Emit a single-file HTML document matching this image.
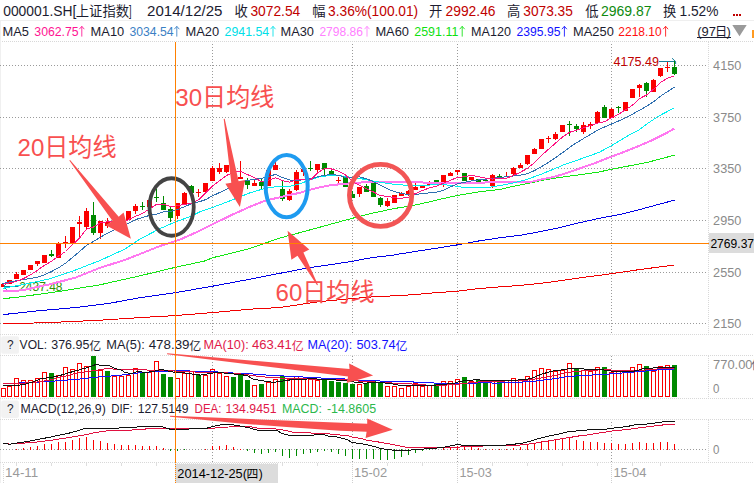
<!DOCTYPE html>
<html><head><meta charset="utf-8"><title>chart</title>
<style>html,body{margin:0;padding:0;background:#fff;overflow:hidden}body{width:754px;height:483px;position:relative;font-family:"Liberation Sans",sans-serif}</style></head>
<body>
<svg width="754" height="483" viewBox="0 0 754 483" style="position:absolute;left:0;top:0;font-family:'Liberation Sans','Noto Sans CJK SC',sans-serif">
<rect width="754" height="483" fill="#fff"/>
<rect x="0" y="20" width="754" height="1" fill="#efefef" />
<path d="M0 41.5H754" stroke="#d8d8d8" stroke-width="1" stroke-dasharray="1 1" fill="none" shape-rendering="crispEdges"/>
<rect x="0" y="21" width="1" height="462" fill="#f0f0f0" />
<path d="M708.5 42V334" stroke="#d8d8d8" stroke-width="1" stroke-dasharray="1 1" fill="none" shape-rendering="crispEdges"/>
<path d="M708.5 356V398" stroke="#d8d8d8" stroke-width="1" stroke-dasharray="1 1" fill="none" shape-rendering="crispEdges"/>
<path d="M708.5 420V462" stroke="#d8d8d8" stroke-width="1" stroke-dasharray="1 1" fill="none" shape-rendering="crispEdges"/>
<path d="M0 65.5H708" stroke="#9a9a9a" stroke-width="1" stroke-dasharray="1 2" fill="none" shape-rendering="crispEdges"/>
<path d="M0 117.5H708" stroke="#9a9a9a" stroke-width="1" stroke-dasharray="1 2" fill="none" shape-rendering="crispEdges"/>
<path d="M0 168.5H708" stroke="#9a9a9a" stroke-width="1" stroke-dasharray="1 2" fill="none" shape-rendering="crispEdges"/>
<path d="M0 220.5H708" stroke="#9a9a9a" stroke-width="1" stroke-dasharray="1 2" fill="none" shape-rendering="crispEdges"/>
<path d="M0 272.5H708" stroke="#9a9a9a" stroke-width="1" stroke-dasharray="1 2" fill="none" shape-rendering="crispEdges"/>
<path d="M0 323.5H708" stroke="#9a9a9a" stroke-width="1" stroke-dasharray="1 2" fill="none" shape-rendering="crispEdges"/>
<path d="M212.5 44V334" stroke="#9a9a9a" stroke-width="1" stroke-dasharray="1 2" fill="none" shape-rendering="crispEdges"/>
<path d="M212.5 356V398" stroke="#9a9a9a" stroke-width="1" stroke-dasharray="1 2" fill="none" shape-rendering="crispEdges"/>
<path d="M212.5 422V462" stroke="#9a9a9a" stroke-width="1" stroke-dasharray="1 2" fill="none" shape-rendering="crispEdges"/>
<path d="M352.5 44V334" stroke="#9a9a9a" stroke-width="1" stroke-dasharray="1 2" fill="none" shape-rendering="crispEdges"/>
<path d="M352.5 356V398" stroke="#9a9a9a" stroke-width="1" stroke-dasharray="1 2" fill="none" shape-rendering="crispEdges"/>
<path d="M352.5 422V462" stroke="#9a9a9a" stroke-width="1" stroke-dasharray="1 2" fill="none" shape-rendering="crispEdges"/>
<path d="M457.5 44V334" stroke="#9a9a9a" stroke-width="1" stroke-dasharray="1 2" fill="none" shape-rendering="crispEdges"/>
<path d="M457.5 356V398" stroke="#9a9a9a" stroke-width="1" stroke-dasharray="1 2" fill="none" shape-rendering="crispEdges"/>
<path d="M457.5 422V462" stroke="#9a9a9a" stroke-width="1" stroke-dasharray="1 2" fill="none" shape-rendering="crispEdges"/>
<path d="M611.5 44V334" stroke="#9a9a9a" stroke-width="1" stroke-dasharray="1 2" fill="none" shape-rendering="crispEdges"/>
<path d="M611.5 356V398" stroke="#9a9a9a" stroke-width="1" stroke-dasharray="1 2" fill="none" shape-rendering="crispEdges"/>
<path d="M611.5 422V462" stroke="#9a9a9a" stroke-width="1" stroke-dasharray="1 2" fill="none" shape-rendering="crispEdges"/>
<path d="M0 334.5H754" stroke="#d8d8d8" stroke-width="1" stroke-dasharray="1 1" fill="none" shape-rendering="crispEdges"/>
<path d="M0 355.5H754" stroke="#d8d8d8" stroke-width="1" stroke-dasharray="1 1" fill="none" shape-rendering="crispEdges"/>
<path d="M0 398.5H754" stroke="#d8d8d8" stroke-width="1" stroke-dasharray="1 1" fill="none" shape-rendering="crispEdges"/>
<path d="M0 419.5H754" stroke="#d8d8d8" stroke-width="1" stroke-dasharray="1 1" fill="none" shape-rendering="crispEdges"/>
<path d="M0 449.5H708" stroke="#9a9a9a" stroke-width="1" stroke-dasharray="1 2" fill="none" shape-rendering="crispEdges"/>
<path d="M0 462.5H754" stroke="#d8d8d8" stroke-width="1" stroke-dasharray="1 1" fill="none" shape-rendering="crispEdges"/>
<rect x="16" y="463" width="1" height="3" fill="#dedede" />
<rect x="51" y="463" width="1" height="3" fill="#dedede" />
<rect x="86" y="463" width="1" height="3" fill="#dedede" />
<rect x="121" y="463" width="1" height="3" fill="#dedede" />
<rect x="156" y="463" width="1" height="3" fill="#dedede" />
<rect x="191" y="463" width="1" height="3" fill="#dedede" />
<rect x="247" y="463" width="1" height="3" fill="#dedede" />
<rect x="282" y="463" width="1" height="3" fill="#dedede" />
<rect x="317" y="463" width="1" height="3" fill="#dedede" />
<rect x="387" y="463" width="1" height="3" fill="#dedede" />
<rect x="422" y="463" width="1" height="3" fill="#dedede" />
<rect x="492" y="463" width="1" height="3" fill="#dedede" />
<rect x="527" y="463" width="1" height="3" fill="#dedede" />
<rect x="562" y="463" width="1" height="3" fill="#dedede" />
<rect x="597" y="463" width="1" height="3" fill="#dedede" />
<rect x="632" y="463" width="1" height="3" fill="#dedede" />
<rect x="660" y="463" width="1" height="3" fill="#dedede" />
<path d="M352.5 464V483" stroke="#d0d0d0" stroke-width="1" stroke-dasharray="1 1" fill="none" shape-rendering="crispEdges"/>
<path d="M457.5 464V483" stroke="#d0d0d0" stroke-width="1" stroke-dasharray="1 1" fill="none" shape-rendering="crispEdges"/>
<path d="M611.5 464V483" stroke="#d0d0d0" stroke-width="1" stroke-dasharray="1 1" fill="none" shape-rendering="crispEdges"/>
<text x="613.5" y="66.2" font-size="12.5" fill="#c00000" textLength="45.5" lengthAdjust="spacingAndGlyphs">4175.49</text>
<path d="M659 61.5H675.5M672 58.2L675.6 61.5L675.6 64" fill="none" stroke="#1a809c" stroke-width="1"/>
<text x="19.2" y="290.8" font-size="12" fill="#2f8f00" textLength="43.3" lengthAdjust="spacingAndGlyphs">2437.48</text>
<path d="M4 286.5H18.5M6.8 283.2L3.5 286.5L6.8 289.8" fill="none" stroke="#1a809c" stroke-width="1"/>
<g shape-rendering="crispEdges">
<rect x="1" y="284" width="3" height="3" fill="#fa0000"/>
<rect x="7" y="280" width="5" height="4" fill="#fa0000"/>
<rect x="16" y="272" width="1" height="7" fill="#fa0000"/>
<rect x="14" y="274" width="5" height="5" fill="#fa0000"/>
<rect x="21" y="270" width="5" height="5" fill="#fa0000"/>
<rect x="28" y="265" width="5" height="5" fill="#fa0000"/>
<rect x="37" y="261" width="1" height="5" fill="#fa0000"/>
<rect x="35" y="261" width="5" height="3" fill="#fa0000"/>
<rect x="42" y="255" width="5" height="8" fill="#fa0000"/>
<rect x="51" y="250" width="1" height="7" fill="#008a00"/>
<rect x="49" y="254" width="5" height="2" fill="#008a00"/>
<rect x="58" y="242" width="1" height="16" fill="#fa0000"/>
<rect x="56" y="243" width="5" height="15" fill="#fa0000"/>
<rect x="65" y="236" width="1" height="12" fill="#fa0000"/>
<rect x="63" y="242" width="5" height="2" fill="#fa0000"/>
<rect x="70" y="227" width="5" height="16" fill="#fa0000"/>
<rect x="79" y="216" width="1" height="22" fill="#fa0000"/>
<rect x="77" y="222" width="5" height="2" fill="#fa0000"/>
<rect x="86" y="208" width="1" height="21" fill="#fa0000"/>
<rect x="84" y="211" width="5" height="16" fill="#fa0000"/>
<rect x="93" y="202" width="1" height="33" fill="#008a00"/>
<rect x="91" y="215" width="5" height="18" fill="#008a00"/>
<rect x="100" y="221" width="1" height="18" fill="#fa0000"/>
<rect x="98" y="221" width="5" height="12" fill="#fa0000"/>
<rect x="107" y="218" width="1" height="10" fill="#fa0000"/>
<rect x="105" y="222" width="5" height="4" fill="#fa0000"/>
<rect x="112" y="222" width="5" height="2" fill="#fa0000"/>
<rect x="119" y="221" width="5" height="2" fill="#fa0000"/>
<rect x="126" y="211" width="5" height="9" fill="#fa0000"/>
<rect x="135" y="204" width="1" height="10" fill="#fa0000"/>
<rect x="133" y="206" width="5" height="5" fill="#fa0000"/>
<rect x="142" y="202" width="1" height="8" fill="#008a00"/>
<rect x="140" y="206" width="5" height="1" fill="#008a00"/>
<rect x="147" y="200" width="5" height="7" fill="#fa0000"/>
<rect x="156" y="189" width="1" height="13" fill="#008a00"/>
<rect x="154" y="197" width="5" height="1" fill="#008a00"/>
<rect x="163" y="196" width="1" height="14" fill="#008a00"/>
<rect x="161" y="203" width="5" height="7" fill="#008a00"/>
<rect x="170" y="207" width="1" height="15" fill="#008a00"/>
<rect x="168" y="209" width="5" height="9" fill="#008a00"/>
<rect x="177" y="203" width="1" height="16" fill="#fa0000"/>
<rect x="175" y="203" width="5" height="13" fill="#fa0000"/>
<rect x="184" y="192" width="1" height="12" fill="#fa0000"/>
<rect x="182" y="193" width="5" height="11" fill="#fa0000"/>
<rect x="191" y="185" width="1" height="8" fill="#008a00"/>
<rect x="189" y="186" width="5" height="7" fill="#008a00"/>
<rect x="198" y="189" width="1" height="8" fill="#fa0000"/>
<rect x="196" y="192" width="5" height="1" fill="#fa0000"/>
<rect x="203" y="183" width="5" height="9" fill="#fa0000"/>
<rect x="212" y="166" width="1" height="15" fill="#fa0000"/>
<rect x="210" y="168" width="5" height="13" fill="#fa0000"/>
<rect x="219" y="163" width="1" height="11" fill="#fa0000"/>
<rect x="217" y="168" width="5" height="4" fill="#fa0000"/>
<rect x="226" y="165" width="1" height="8" fill="#fa0000"/>
<rect x="224" y="165" width="5" height="7" fill="#fa0000"/>
<rect x="231" y="171" width="5" height="7" fill="#008a00"/>
<rect x="240" y="161" width="1" height="18" fill="#fa0000"/>
<rect x="238" y="177" width="5" height="2" fill="#fa0000"/>
<rect x="247" y="178" width="1" height="11" fill="#008a00"/>
<rect x="245" y="181" width="5" height="4" fill="#008a00"/>
<rect x="254" y="180" width="1" height="6" fill="#fa0000"/>
<rect x="252" y="183" width="5" height="3" fill="#fa0000"/>
<rect x="261" y="179" width="1" height="10" fill="#008a00"/>
<rect x="259" y="182" width="5" height="4" fill="#008a00"/>
<rect x="266" y="170" width="5" height="16" fill="#fa0000"/>
<rect x="275" y="162" width="1" height="8" fill="#fa0000"/>
<rect x="273" y="165" width="5" height="5" fill="#fa0000"/>
<rect x="282" y="181" width="1" height="20" fill="#008a00"/>
<rect x="280" y="189" width="5" height="10" fill="#008a00"/>
<rect x="289" y="189" width="1" height="12" fill="#fa0000"/>
<rect x="287" y="191" width="5" height="9" fill="#fa0000"/>
<rect x="296" y="170" width="1" height="21" fill="#fa0000"/>
<rect x="294" y="172" width="5" height="18" fill="#fa0000"/>
<rect x="303" y="169" width="1" height="7" fill="#fa0000"/>
<rect x="301" y="169" width="5" height="3" fill="#fa0000"/>
<rect x="310" y="161" width="1" height="10" fill="#008a00"/>
<rect x="308" y="168" width="5" height="1" fill="#008a00"/>
<rect x="317" y="164" width="1" height="8" fill="#fa0000"/>
<rect x="315" y="164" width="5" height="6" fill="#fa0000"/>
<rect x="324" y="163" width="1" height="12" fill="#008a00"/>
<rect x="322" y="163" width="5" height="6" fill="#008a00"/>
<rect x="331" y="168" width="1" height="8" fill="#008a00"/>
<rect x="329" y="171" width="5" height="3" fill="#008a00"/>
<rect x="338" y="177" width="1" height="6" fill="#fa0000"/>
<rect x="336" y="180" width="5" height="1" fill="#fa0000"/>
<rect x="343" y="177" width="5" height="10" fill="#008a00"/>
<rect x="352" y="191" width="1" height="7" fill="#008a00"/>
<rect x="350" y="194" width="5" height="4" fill="#008a00"/>
<rect x="359" y="187" width="1" height="10" fill="#fa0000"/>
<rect x="357" y="187" width="5" height="7" fill="#fa0000"/>
<rect x="366" y="184" width="1" height="8" fill="#008a00"/>
<rect x="364" y="186" width="5" height="6" fill="#008a00"/>
<rect x="373" y="181" width="1" height="16" fill="#008a00"/>
<rect x="371" y="183" width="5" height="14" fill="#008a00"/>
<rect x="380" y="197" width="1" height="10" fill="#008a00"/>
<rect x="378" y="198" width="5" height="7" fill="#008a00"/>
<rect x="387" y="198" width="1" height="9" fill="#fa0000"/>
<rect x="385" y="201" width="5" height="5" fill="#fa0000"/>
<rect x="392" y="195" width="5" height="8" fill="#fa0000"/>
<rect x="401" y="192" width="1" height="4" fill="#fa0000"/>
<rect x="399" y="193" width="5" height="3" fill="#fa0000"/>
<rect x="408" y="190" width="1" height="6" fill="#fa0000"/>
<rect x="406" y="191" width="5" height="3" fill="#fa0000"/>
<rect x="415" y="183" width="1" height="7" fill="#fa0000"/>
<rect x="413" y="187" width="5" height="3" fill="#fa0000"/>
<rect x="420" y="186" width="5" height="2" fill="#fa0000"/>
<rect x="429" y="181" width="1" height="4" fill="#fa0000"/>
<rect x="427" y="182" width="5" height="3" fill="#fa0000"/>
<rect x="434" y="180" width="5" height="5" fill="#008a00"/>
<rect x="443" y="175" width="1" height="12" fill="#fa0000"/>
<rect x="441" y="175" width="5" height="10" fill="#fa0000"/>
<rect x="450" y="172" width="1" height="4" fill="#fa0000"/>
<rect x="448" y="173" width="5" height="3" fill="#fa0000"/>
<rect x="457" y="170" width="1" height="5" fill="#fa0000"/>
<rect x="455" y="170" width="5" height="2" fill="#fa0000"/>
<rect x="462" y="173" width="5" height="8" fill="#008a00"/>
<rect x="469" y="177" width="5" height="3" fill="#fa0000"/>
<rect x="478" y="179" width="1" height="5" fill="#008a00"/>
<rect x="476" y="179" width="5" height="3" fill="#008a00"/>
<rect x="485" y="179" width="1" height="3" fill="#008a00"/>
<rect x="483" y="180" width="5" height="1" fill="#008a00"/>
<rect x="492" y="174" width="1" height="14" fill="#fa0000"/>
<rect x="490" y="175" width="5" height="11" fill="#fa0000"/>
<rect x="499" y="174" width="1" height="3" fill="#008a00"/>
<rect x="497" y="176" width="5" height="1" fill="#008a00"/>
<rect x="506" y="172" width="1" height="5" fill="#fa0000"/>
<rect x="504" y="176" width="5" height="1" fill="#fa0000"/>
<rect x="513" y="167" width="1" height="8" fill="#fa0000"/>
<rect x="511" y="168" width="5" height="6" fill="#fa0000"/>
<rect x="520" y="163" width="1" height="5" fill="#fa0000"/>
<rect x="518" y="165" width="5" height="3" fill="#fa0000"/>
<rect x="527" y="155" width="1" height="10" fill="#fa0000"/>
<rect x="525" y="155" width="5" height="9" fill="#fa0000"/>
<rect x="534" y="148" width="1" height="6" fill="#fa0000"/>
<rect x="532" y="149" width="5" height="5" fill="#fa0000"/>
<rect x="539" y="139" width="5" height="10" fill="#fa0000"/>
<rect x="548" y="136" width="1" height="7" fill="#fa0000"/>
<rect x="546" y="138" width="5" height="1" fill="#fa0000"/>
<rect x="555" y="132" width="1" height="8" fill="#fa0000"/>
<rect x="553" y="134" width="5" height="5" fill="#fa0000"/>
<rect x="560" y="125" width="5" height="7" fill="#fa0000"/>
<rect x="569" y="121" width="1" height="15" fill="#008a00"/>
<rect x="567" y="124" width="5" height="1" fill="#008a00"/>
<rect x="576" y="124" width="1" height="8" fill="#008a00"/>
<rect x="574" y="126" width="5" height="3" fill="#008a00"/>
<rect x="583" y="122" width="1" height="12" fill="#fa0000"/>
<rect x="581" y="125" width="5" height="7" fill="#fa0000"/>
<rect x="590" y="122" width="1" height="7" fill="#fa0000"/>
<rect x="588" y="124" width="5" height="2" fill="#fa0000"/>
<rect x="597" y="111" width="1" height="12" fill="#fa0000"/>
<rect x="595" y="112" width="5" height="11" fill="#fa0000"/>
<rect x="604" y="105" width="1" height="13" fill="#008a00"/>
<rect x="602" y="107" width="5" height="11" fill="#008a00"/>
<rect x="611" y="108" width="1" height="10" fill="#fa0000"/>
<rect x="609" y="109" width="5" height="9" fill="#fa0000"/>
<rect x="618" y="106" width="1" height="7" fill="#008a00"/>
<rect x="616" y="107" width="5" height="1" fill="#008a00"/>
<rect x="623" y="102" width="5" height="9" fill="#fa0000"/>
<rect x="630" y="89" width="5" height="9" fill="#fa0000"/>
<rect x="639" y="84" width="1" height="13" fill="#fa0000"/>
<rect x="637" y="85" width="5" height="3" fill="#fa0000"/>
<rect x="646" y="82" width="1" height="15" fill="#008a00"/>
<rect x="644" y="83" width="5" height="8" fill="#008a00"/>
<rect x="653" y="79" width="1" height="13" fill="#fa0000"/>
<rect x="651" y="80" width="5" height="12" fill="#fa0000"/>
<rect x="660" y="68" width="1" height="9" fill="#fa0000"/>
<rect x="658" y="68" width="5" height="8" fill="#fa0000"/>
<rect x="667" y="62" width="1" height="10" fill="#fa0000"/>
<rect x="665" y="67" width="5" height="1" fill="#fa0000"/>
<rect x="674" y="61" width="1" height="14" fill="#008a00"/>
<rect x="672" y="67" width="5" height="7" fill="#008a00"/>
</g>
<polyline points="3.0,323.9 34.0,323.0 61.0,322.0 83.0,321.0 103.5,320.0 118.6,319.0 140.0,317.6 175.0,315.6 212.0,312.6 250.0,309.2 280.0,307.5 300.0,304.5 320.0,301.6 352.0,298.6 375.5,296.6 399.4,295.6 419.3,294.2 429.2,293.2 439.9,292.5 457.8,291.1 479.7,288.5 499.6,286.9 519.5,285.5 539.4,283.5 560.0,280.8 585.7,277.1 611.5,273.7 637.2,269.9 662.9,266.5 674.5,265.0" fill="none" stroke="#f00000" stroke-width="1" stroke-linejoin="round" shape-rendering="crispEdges" />
<polyline points="3.0,314.6 40.0,310.6 75.0,307.6 110.0,303.2 140.0,297.7 175.0,292.7 212.0,286.3 250.0,279.2 280.0,273.3 300.0,269.4 313.0,267.2 326.5,265.2 340.0,263.2 353.0,261.2 366.0,258.6 380.0,256.6 393.0,255.3 400.0,253.9 410.0,252.3 420.0,250.7 439.9,247.7 457.8,244.8 479.7,240.8 499.6,237.8 519.5,235.4 539.4,231.8 560.0,227.6 579.9,222.6 599.8,218.2 619.7,214.6 639.6,209.6 659.5,204.1 674.5,200.2" fill="none" stroke="#0000e6" stroke-width="1" stroke-linejoin="round" shape-rendering="crispEdges" />
<polyline points="3.0,298.7 20.0,296.9 60.0,291.3 100.0,284.8 140.0,275.8 175.0,267.4 205.0,260.9 212.0,257.9 250.0,248.4 280.0,238.0 300.0,232.6 330.0,224.4 352.0,218.4 366.5,214.5 380.0,211.6 393.0,208.7 406.0,206.7 420.0,204.0 433.0,201.0 440.0,199.3 457.0,195.5 480.0,191.6 500.0,189.5 513.0,186.4 526.5,183.8 540.0,180.8 553.0,178.5 566.0,176.5 580.0,174.7 593.0,172.9 600.0,171.8 611.7,169.2 629.6,165.8 647.5,162.3 663.4,158.2 674.5,155.0" fill="none" stroke="#14e614" stroke-width="1" stroke-linejoin="round" shape-rendering="crispEdges" />
<polyline points="3.0,291.3 15.0,291.0 25.0,289.7 50.0,284.2 75.0,277.8 100.0,267.8 125.0,259.9 140.0,254.0 160.0,246.0 180.0,239.6 200.0,230.6 212.0,224.6 230.0,215.7 250.0,206.7 265.0,200.8 280.0,197.2 290.0,194.8 300.0,192.8 310.0,189.8 320.0,187.2 330.0,185.4 340.0,184.2 352.0,183.2 365.0,182.2 380.0,181.8 400.0,181.8 415.0,182.2 430.0,182.8 440.0,182.9 460.0,182.7 480.0,182.7 500.0,182.0 520.0,181.8 533.0,181.5 540.0,179.8 553.0,177.1 566.3,173.2 579.6,168.5 592.8,163.9 604.6,159.3 613.7,155.8 629.8,149.7 649.7,141.3 663.0,134.9 674.5,128.5" fill="none" stroke="#ff78f0" stroke-width="2" stroke-linejoin="round" shape-rendering="crispEdges" />
<polyline points="3.0,288.3 25.0,284.2 50.0,278.8 75.0,270.2 100.0,260.5 125.0,249.0 140.0,239.0 160.0,228.6 175.0,222.0 190.0,216.7 200.0,211.7 212.0,207.7 230.0,200.8 250.0,192.8 265.0,188.4 275.0,186.8 290.0,186.2 300.0,183.8 310.0,179.8 320.0,176.8 330.0,175.4 340.0,175.8 352.0,177.4 365.0,179.4 375.0,181.4 390.0,183.8 400.0,184.8 415.0,185.8 430.0,185.0 440.0,184.6 450.0,185.2 462.0,187.2 480.0,187.6 490.0,187.2 500.0,185.5 513.0,183.1 526.5,179.5 540.0,174.7 553.0,169.4 566.0,163.9 580.0,159.2 593.0,154.6 600.0,151.9 611.2,145.8 620.0,140.6 629.8,134.7 638.6,130.3 647.0,123.9 659.0,115.9 674.5,107.8" fill="none" stroke="#00f0f0" stroke-width="1" stroke-linejoin="round" shape-rendering="crispEdges" />
<polyline points="2.5,283.7 9.5,281.9 16.5,280.7 23.5,279.6 30.5,278.5 37.5,277.2 44.5,274.8 51.5,271.5 58.5,267.8 65.5,263.2 72.5,257.5 79.5,251.6 86.5,245.3 93.5,241.5 100.5,237.2 107.5,233.2 114.5,229.9 121.5,226.5 128.5,223.2 135.5,219.6 142.5,217.6 149.5,215.4 156.5,214.1 163.5,211.8 170.5,211.4 177.5,209.6 184.5,206.7 191.5,203.8 198.5,202.0 205.5,199.7 212.5,195.8 219.5,192.6 226.5,189.4 233.5,186.2 240.5,182.1 247.5,180.3 254.5,179.3 261.5,178.6 268.5,176.3 275.5,174.5 282.5,177.6 289.5,179.9 296.5,180.7 303.5,179.7 310.5,178.9 317.5,176.8 324.5,175.4 331.5,174.3 338.5,175.3 345.5,177.5 352.5,177.3 359.5,176.9 366.5,178.8 373.5,181.6 380.5,185.3 387.5,188.9 394.5,191.6 401.5,193.5 408.5,194.6 415.5,194.6 422.5,193.4 429.5,192.9 436.5,192.3 443.5,190.1 450.5,186.9 457.5,183.8 464.5,182.4 471.5,180.8 478.5,179.9 485.5,179.2 492.5,178.2 499.5,177.6 506.5,176.7 513.5,176.0 520.5,175.2 527.5,173.7 534.5,170.5 541.5,166.7 548.5,162.3 555.5,157.7 562.5,152.7 569.5,147.4 576.5,142.8 583.5,138.5 590.5,134.4 597.5,130.1 604.5,127.0 611.5,124.0 618.5,121.0 625.5,117.8 632.5,114.2 639.5,110.2 646.5,106.3 653.5,101.8 660.5,96.2 667.5,91.6 674.5,87.2" fill="none" stroke="#2f6fb0" stroke-width="1" stroke-linejoin="round" shape-rendering="crispEdges" />
<polyline points="2.5,284.3 9.5,283.0 16.5,281.3 23.5,278.6 30.5,274.8 37.5,270.3 44.5,265.2 51.5,261.4 58.5,256.1 65.5,251.5 72.5,244.7 79.5,238.0 86.5,229.1 93.5,227.0 100.5,222.8 107.5,221.8 114.5,221.9 121.5,223.8 128.5,219.5 135.5,216.4 142.5,213.4 149.5,209.0 156.5,204.3 163.5,204.1 170.5,206.5 177.5,205.7 184.5,204.3 191.5,203.3 198.5,199.9 205.5,192.9 212.5,185.9 219.5,180.9 226.5,175.4 233.5,172.5 240.5,171.3 247.5,174.6 254.5,177.6 261.5,181.7 268.5,180.2 275.5,177.7 282.5,180.6 289.5,182.2 296.5,179.6 303.5,179.3 310.5,180.0 317.5,173.0 324.5,168.5 331.5,169.0 338.5,171.2 345.5,174.9 352.5,181.6 359.5,185.3 366.5,188.7 373.5,192.0 380.5,195.7 387.5,196.3 394.5,197.9 401.5,198.2 408.5,197.1 415.5,193.5 422.5,190.5 429.5,187.9 436.5,186.3 443.5,183.1 450.5,180.3 457.5,177.2 464.5,176.9 471.5,175.3 478.5,176.6 485.5,178.1 492.5,179.1 499.5,178.4 506.5,178.2 513.5,175.4 520.5,172.2 527.5,168.3 534.5,162.6 541.5,155.3 548.5,149.3 555.5,143.1 562.5,137.1 569.5,132.3 576.5,130.2 583.5,127.7 590.5,125.7 597.5,123.1 604.5,121.7 611.5,117.7 618.5,114.3 625.5,109.8 632.5,105.2 639.5,98.6 646.5,95.0 653.5,89.3 660.5,82.5 667.5,78.1 674.5,75.8" fill="none" stroke="#ff1080" stroke-width="1" stroke-linejoin="round" shape-rendering="crispEdges" />
<g shape-rendering="crispEdges">
<rect x="1.5" y="388.5" width="4" height="8" fill="#fff" stroke="#fa0000" stroke-width="1"/>
<rect x="7.5" y="386.5" width="4" height="10" fill="#fff" stroke="#fa0000" stroke-width="1"/>
<rect x="14.5" y="378.5" width="4" height="18" fill="#fff" stroke="#fa0000" stroke-width="1"/>
<rect x="21.5" y="380.5" width="4" height="16" fill="#fff" stroke="#fa0000" stroke-width="1"/>
<rect x="28.5" y="380.5" width="4" height="16" fill="#fff" stroke="#fa0000" stroke-width="1"/>
<rect x="35.5" y="378.5" width="4" height="18" fill="#fff" stroke="#fa0000" stroke-width="1"/>
<rect x="42.5" y="372.5" width="4" height="24" fill="#fff" stroke="#fa0000" stroke-width="1"/>
<rect x="49" y="373" width="5" height="24" fill="#008a00"/>
<rect x="56.5" y="375.5" width="4" height="21" fill="#fff" stroke="#fa0000" stroke-width="1"/>
<rect x="63.5" y="367.5" width="4" height="29" fill="#fff" stroke="#fa0000" stroke-width="1"/>
<rect x="70.5" y="369.5" width="4" height="27" fill="#fff" stroke="#fa0000" stroke-width="1"/>
<rect x="77.5" y="363.5" width="4" height="33" fill="#fff" stroke="#fa0000" stroke-width="1"/>
<rect x="84.5" y="366.5" width="4" height="30" fill="#fff" stroke="#fa0000" stroke-width="1"/>
<rect x="91" y="356" width="5" height="41" fill="#008a00"/>
<rect x="98.5" y="370.5" width="4" height="26" fill="#fff" stroke="#fa0000" stroke-width="1"/>
<rect x="105" y="371" width="5" height="26" fill="#008a00"/>
<rect x="112.5" y="376.5" width="4" height="20" fill="#fff" stroke="#fa0000" stroke-width="1"/>
<rect x="119.5" y="376.5" width="4" height="20" fill="#fff" stroke="#fa0000" stroke-width="1"/>
<rect x="126.5" y="375.5" width="4" height="21" fill="#fff" stroke="#fa0000" stroke-width="1"/>
<rect x="133.5" y="368.5" width="4" height="28" fill="#fff" stroke="#fa0000" stroke-width="1"/>
<rect x="140" y="373" width="5" height="24" fill="#008a00"/>
<rect x="147.5" y="372.5" width="4" height="24" fill="#fff" stroke="#fa0000" stroke-width="1"/>
<rect x="154.5" y="361.5" width="4" height="35" fill="#fff" stroke="#fa0000" stroke-width="1"/>
<rect x="161" y="374" width="5" height="23" fill="#008a00"/>
<rect x="168" y="377" width="5" height="20" fill="#008a00"/>
<rect x="175.5" y="378.5" width="4" height="18" fill="#fff" stroke="#fa0000" stroke-width="1"/>
<rect x="182.5" y="373.5" width="4" height="23" fill="#fff" stroke="#fa0000" stroke-width="1"/>
<rect x="189.5" y="371.5" width="4" height="25" fill="#fff" stroke="#fa0000" stroke-width="1"/>
<rect x="196" y="375" width="5" height="22" fill="#008a00"/>
<rect x="203.5" y="375.5" width="4" height="21" fill="#fff" stroke="#fa0000" stroke-width="1"/>
<rect x="210.5" y="369.5" width="4" height="27" fill="#fff" stroke="#fa0000" stroke-width="1"/>
<rect x="217.5" y="373.5" width="4" height="23" fill="#fff" stroke="#fa0000" stroke-width="1"/>
<rect x="224.5" y="376.5" width="4" height="20" fill="#fff" stroke="#fa0000" stroke-width="1"/>
<rect x="231" y="377" width="5" height="20" fill="#008a00"/>
<rect x="238" y="375" width="5" height="22" fill="#008a00"/>
<rect x="245" y="380" width="5" height="17" fill="#008a00"/>
<rect x="252.5" y="385.5" width="4" height="11" fill="#fff" stroke="#fa0000" stroke-width="1"/>
<rect x="259" y="384" width="5" height="13" fill="#008a00"/>
<rect x="266.5" y="382.5" width="4" height="14" fill="#fff" stroke="#fa0000" stroke-width="1"/>
<rect x="273.5" y="379.5" width="4" height="17" fill="#fff" stroke="#fa0000" stroke-width="1"/>
<rect x="280" y="376" width="5" height="21" fill="#008a00"/>
<rect x="287.5" y="379.5" width="4" height="17" fill="#fff" stroke="#fa0000" stroke-width="1"/>
<rect x="294.5" y="376.5" width="4" height="20" fill="#fff" stroke="#fa0000" stroke-width="1"/>
<rect x="301.5" y="378.5" width="4" height="18" fill="#fff" stroke="#fa0000" stroke-width="1"/>
<rect x="308.5" y="378.5" width="4" height="18" fill="#fff" stroke="#fa0000" stroke-width="1"/>
<rect x="315.5" y="380.5" width="4" height="16" fill="#fff" stroke="#fa0000" stroke-width="1"/>
<rect x="322" y="379" width="5" height="18" fill="#008a00"/>
<rect x="329" y="381" width="5" height="16" fill="#008a00"/>
<rect x="336" y="382" width="5" height="15" fill="#008a00"/>
<rect x="343" y="383" width="5" height="14" fill="#008a00"/>
<rect x="350" y="384" width="5" height="13" fill="#008a00"/>
<rect x="357.5" y="384.5" width="4" height="12" fill="#fff" stroke="#fa0000" stroke-width="1"/>
<rect x="364" y="383" width="5" height="14" fill="#008a00"/>
<rect x="371" y="381" width="5" height="16" fill="#008a00"/>
<rect x="378" y="383" width="5" height="14" fill="#008a00"/>
<rect x="385.5" y="386.5" width="4" height="10" fill="#fff" stroke="#fa0000" stroke-width="1"/>
<rect x="392.5" y="386.5" width="4" height="10" fill="#fff" stroke="#fa0000" stroke-width="1"/>
<rect x="399.5" y="388.5" width="4" height="8" fill="#fff" stroke="#fa0000" stroke-width="1"/>
<rect x="406.5" y="386.5" width="4" height="10" fill="#fff" stroke="#fa0000" stroke-width="1"/>
<rect x="413.5" y="383.5" width="4" height="13" fill="#fff" stroke="#fa0000" stroke-width="1"/>
<rect x="420.5" y="386.5" width="4" height="10" fill="#fff" stroke="#fa0000" stroke-width="1"/>
<rect x="427.5" y="385.5" width="4" height="11" fill="#fff" stroke="#fa0000" stroke-width="1"/>
<rect x="434" y="383" width="5" height="14" fill="#008a00"/>
<rect x="441.5" y="381.5" width="4" height="15" fill="#fff" stroke="#fa0000" stroke-width="1"/>
<rect x="448.5" y="381.5" width="4" height="15" fill="#fff" stroke="#fa0000" stroke-width="1"/>
<rect x="455.5" y="379.5" width="4" height="17" fill="#fff" stroke="#fa0000" stroke-width="1"/>
<rect x="462" y="377" width="5" height="20" fill="#008a00"/>
<rect x="469.5" y="381.5" width="4" height="15" fill="#fff" stroke="#fa0000" stroke-width="1"/>
<rect x="476" y="380" width="5" height="17" fill="#008a00"/>
<rect x="483" y="382" width="5" height="15" fill="#008a00"/>
<rect x="490.5" y="381.5" width="4" height="15" fill="#fff" stroke="#fa0000" stroke-width="1"/>
<rect x="497" y="381" width="5" height="16" fill="#008a00"/>
<rect x="504.5" y="380.5" width="4" height="16" fill="#fff" stroke="#fa0000" stroke-width="1"/>
<rect x="511.5" y="378.5" width="4" height="18" fill="#fff" stroke="#fa0000" stroke-width="1"/>
<rect x="518.5" y="379.5" width="4" height="17" fill="#fff" stroke="#fa0000" stroke-width="1"/>
<rect x="525.5" y="376.5" width="4" height="20" fill="#fff" stroke="#fa0000" stroke-width="1"/>
<rect x="532.5" y="370.5" width="4" height="26" fill="#fff" stroke="#fa0000" stroke-width="1"/>
<rect x="539.5" y="368.5" width="4" height="28" fill="#fff" stroke="#fa0000" stroke-width="1"/>
<rect x="546.5" y="369.5" width="4" height="27" fill="#fff" stroke="#fa0000" stroke-width="1"/>
<rect x="553.5" y="371.5" width="4" height="25" fill="#fff" stroke="#fa0000" stroke-width="1"/>
<rect x="560.5" y="370.5" width="4" height="26" fill="#fff" stroke="#fa0000" stroke-width="1"/>
<rect x="567.5" y="363.5" width="4" height="33" fill="#fff" stroke="#fa0000" stroke-width="1"/>
<rect x="574" y="369" width="5" height="28" fill="#008a00"/>
<rect x="581.5" y="370.5" width="4" height="26" fill="#fff" stroke="#fa0000" stroke-width="1"/>
<rect x="588.5" y="371.5" width="4" height="25" fill="#fff" stroke="#fa0000" stroke-width="1"/>
<rect x="595.5" y="367.5" width="4" height="29" fill="#fff" stroke="#fa0000" stroke-width="1"/>
<rect x="602" y="367" width="5" height="30" fill="#008a00"/>
<rect x="609.5" y="372.5" width="4" height="24" fill="#fff" stroke="#fa0000" stroke-width="1"/>
<rect x="616.5" y="371.5" width="4" height="25" fill="#fff" stroke="#fa0000" stroke-width="1"/>
<rect x="623.5" y="372.5" width="4" height="24" fill="#fff" stroke="#fa0000" stroke-width="1"/>
<rect x="630.5" y="367.5" width="4" height="29" fill="#fff" stroke="#fa0000" stroke-width="1"/>
<rect x="637.5" y="364.5" width="4" height="32" fill="#fff" stroke="#fa0000" stroke-width="1"/>
<rect x="644" y="366" width="5" height="31" fill="#008a00"/>
<rect x="651.5" y="371.5" width="4" height="25" fill="#fff" stroke="#fa0000" stroke-width="1"/>
<rect x="658.5" y="366.5" width="4" height="30" fill="#fff" stroke="#fa0000" stroke-width="1"/>
<rect x="665.5" y="365.5" width="4" height="31" fill="#fff" stroke="#fa0000" stroke-width="1"/>
<rect x="672" y="365" width="5" height="32" fill="#008a00"/>
</g>
<polyline points="3.3,383.9 16.7,383.1 33.4,382.3 50.1,381.4 66.8,380.1 83.6,378.7 100.3,376.7 117.0,375.6 128.4,374.2 136.7,373.1 153.4,371.7 170.1,370.9 186.8,370.9 203.6,371.4 220.3,372.1 237.0,373.3 250.0,373.7 260.0,374.7 273.4,375.4 286.8,376.2 298.5,376.7 311.9,377.6 323.6,378.1 336.9,378.7 350.3,379.2 362.0,380.6 376.7,380.9 393.4,381.4 410.1,381.4 415.1,382.3 431.9,382.6 435.2,383.4 453.6,383.4 468.6,383.1 486.0,382.9 496.7,383.1 513.4,382.6 526.8,381.8 536.8,380.9 546.8,379.7 556.9,378.4 566.9,376.7 576.9,375.9 586.9,375.4 597.0,374.6 606.0,374.2 612.3,373.8 624.5,372.8 636.8,371.8 649.0,370.7 661.3,369.7 674.5,369.3" fill="none" stroke="#1414ff" stroke-width="1" stroke-linejoin="round" shape-rendering="crispEdges" />
<polyline points="3.3,383.4 16.7,383.4 33.4,382.6 50.1,380.1 58.5,377.6 66.8,375.9 75.2,373.4 83.6,372.2 91.9,370.9 100.3,369.7 107.0,368.4 115.3,369.2 122.0,369.7 128.4,369.2 136.7,369.2 145.1,369.7 153.4,370.9 161.8,370.4 170.1,370.9 186.8,371.4 203.6,372.6 220.3,372.6 237.0,373.5 250.0,375.1 260.0,376.7 273.4,377.6 286.8,378.4 298.5,378.4 311.9,379.2 323.6,379.2 336.9,379.7 350.3,380.1 362.0,381.4 376.7,382.1 393.4,383.1 410.1,383.9 426.8,385.1 443.6,385.1 453.6,384.8 463.6,383.4 477.0,382.1 486.0,381.4 496.7,381.4 513.4,380.6 526.8,380.1 536.8,378.7 546.8,377.1 556.9,375.1 566.9,372.6 576.9,371.4 586.9,370.4 597.0,370.1 606.0,369.5 612.3,370.1 624.5,370.7 636.8,370.7 649.0,369.7 661.3,368.7 674.5,368.3" fill="none" stroke="#e01040" stroke-width="1" stroke-linejoin="round" shape-rendering="crispEdges" />
<polyline points="3.3,385.9 16.7,385.4 25.0,384.3 33.4,381.8 41.8,378.4 50.1,377.6 58.5,375.9 66.8,373.4 75.2,370.9 83.6,368.7 90.2,366.7 95.3,364.7 103.6,365.4 108.6,365.5 115.3,368.7 122.0,370.3 125.0,372.6 131.7,373.4 138.4,371.4 145.1,372.6 153.4,371.4 160.1,369.7 165.1,370.1 170.1,371.7 178.5,372.6 186.8,373.1 193.5,374.2 200.2,375.1 208.6,373.7 215.3,372.6 221.9,372.6 228.6,373.7 237.0,374.2 246.7,375.4 253.4,379.2 260.1,380.4 266.7,381.4 273.4,382.3 280.1,381.4 286.8,380.4 295.1,379.2 303.5,379.2 311.9,378.7 320.2,379.2 328.6,379.2 336.9,380.1 343.6,380.6 350.3,381.4 357.0,382.6 366.0,383.2 370.0,382.6 380.0,382.6 390.0,383.4 398.4,385.1 406.8,385.9 416.8,385.6 426.8,385.9 435.2,385.1 443.6,384.3 453.6,383.4 460.3,381.4 467.0,380.4 477.0,379.7 486.0,380.6 496.7,380.9 506.7,380.4 516.8,380.1 526.8,379.2 533.5,377.6 540.2,374.7 546.8,372.6 553.5,370.9 563.6,369.7 570.2,368.4 580.3,368.4 588.6,369.7 597.0,369.7 602.0,369.7 608.2,370.7 614.3,371.4 620.4,371.4 628.6,371.8 636.8,370.7 642.9,368.7 651.0,368.1 661.3,367.7 674.5,367.7" fill="none" stroke="#101010" stroke-width="1" stroke-linejoin="round" shape-rendering="crispEdges" />
<g shape-rendering="crispEdges">
<rect x="16" y="449" width="1" height="1" fill="#fa0000"/>
<rect x="23" y="448" width="1" height="2" fill="#fa0000"/>
<rect x="30" y="447" width="1" height="3" fill="#fa0000"/>
<rect x="37" y="446" width="1" height="4" fill="#fa0000"/>
<rect x="44" y="444" width="1" height="6" fill="#fa0000"/>
<rect x="51" y="444" width="1" height="6" fill="#fa0000"/>
<rect x="58" y="442" width="1" height="8" fill="#fa0000"/>
<rect x="65" y="442" width="1" height="8" fill="#fa0000"/>
<rect x="72" y="440" width="1" height="10" fill="#fa0000"/>
<rect x="79" y="438" width="1" height="12" fill="#fa0000"/>
<rect x="86" y="437" width="1" height="13" fill="#fa0000"/>
<rect x="93" y="440" width="1" height="10" fill="#fa0000"/>
<rect x="100" y="441" width="1" height="9" fill="#fa0000"/>
<rect x="107" y="443" width="1" height="7" fill="#fa0000"/>
<rect x="114" y="444" width="1" height="6" fill="#fa0000"/>
<rect x="121" y="445" width="1" height="5" fill="#fa0000"/>
<rect x="128" y="445" width="1" height="5" fill="#fa0000"/>
<rect x="135" y="445" width="1" height="5" fill="#fa0000"/>
<rect x="142" y="446" width="1" height="4" fill="#fa0000"/>
<rect x="149" y="446" width="1" height="4" fill="#fa0000"/>
<rect x="156" y="446" width="1" height="4" fill="#fa0000"/>
<rect x="163" y="448" width="1" height="2" fill="#fa0000"/>
<rect x="170" y="449" width="1" height="2" fill="#008a00"/>
<rect x="177" y="449" width="1" height="2" fill="#008a00"/>
<rect x="184" y="449" width="1" height="1" fill="#008a00"/>
<rect x="205" y="449" width="1" height="1" fill="#fa0000"/>
<rect x="212" y="446" width="1" height="4" fill="#fa0000"/>
<rect x="219" y="446" width="1" height="4" fill="#fa0000"/>
<rect x="226" y="445" width="1" height="5" fill="#fa0000"/>
<rect x="233" y="447" width="1" height="3" fill="#fa0000"/>
<rect x="240" y="449" width="1" height="1" fill="#fa0000"/>
<rect x="247" y="449" width="1" height="2" fill="#008a00"/>
<rect x="254" y="449" width="1" height="4" fill="#008a00"/>
<rect x="261" y="449" width="1" height="5" fill="#008a00"/>
<rect x="268" y="449" width="1" height="4" fill="#008a00"/>
<rect x="275" y="449" width="1" height="3" fill="#008a00"/>
<rect x="282" y="449" width="1" height="7" fill="#008a00"/>
<rect x="289" y="449" width="1" height="9" fill="#008a00"/>
<rect x="296" y="449" width="1" height="7" fill="#008a00"/>
<rect x="303" y="449" width="1" height="5" fill="#008a00"/>
<rect x="310" y="449" width="1" height="4" fill="#008a00"/>
<rect x="317" y="449" width="1" height="3" fill="#008a00"/>
<rect x="324" y="449" width="1" height="2" fill="#008a00"/>
<rect x="331" y="449" width="1" height="3" fill="#008a00"/>
<rect x="338" y="449" width="1" height="5" fill="#008a00"/>
<rect x="345" y="449" width="1" height="7" fill="#008a00"/>
<rect x="352" y="449" width="1" height="10" fill="#008a00"/>
<rect x="359" y="449" width="1" height="10" fill="#008a00"/>
<rect x="366" y="449" width="1" height="10" fill="#008a00"/>
<rect x="373" y="449" width="1" height="10" fill="#008a00"/>
<rect x="380" y="449" width="1" height="11" fill="#008a00"/>
<rect x="387" y="449" width="1" height="11" fill="#008a00"/>
<rect x="394" y="449" width="1" height="10" fill="#008a00"/>
<rect x="401" y="449" width="1" height="8" fill="#008a00"/>
<rect x="408" y="449" width="1" height="6" fill="#008a00"/>
<rect x="415" y="449" width="1" height="4" fill="#008a00"/>
<rect x="422" y="449" width="1" height="2" fill="#008a00"/>
<rect x="429" y="449" width="1" height="1" fill="#008a00"/>
<rect x="443" y="448" width="1" height="2" fill="#fa0000"/>
<rect x="450" y="447" width="1" height="3" fill="#fa0000"/>
<rect x="457" y="446" width="1" height="4" fill="#fa0000"/>
<rect x="464" y="447" width="1" height="3" fill="#fa0000"/>
<rect x="471" y="447" width="1" height="3" fill="#fa0000"/>
<rect x="478" y="448" width="1" height="2" fill="#fa0000"/>
<rect x="485" y="449" width="1" height="1" fill="#fa0000"/>
<rect x="492" y="449" width="1" height="1" fill="#fa0000"/>
<rect x="499" y="449" width="1" height="1" fill="#fa0000"/>
<rect x="506" y="449" width="1" height="1" fill="#fa0000"/>
<rect x="513" y="448" width="1" height="2" fill="#fa0000"/>
<rect x="520" y="447" width="1" height="3" fill="#fa0000"/>
<rect x="527" y="445" width="1" height="5" fill="#fa0000"/>
<rect x="534" y="443" width="1" height="7" fill="#fa0000"/>
<rect x="541" y="441" width="1" height="9" fill="#fa0000"/>
<rect x="548" y="440" width="1" height="10" fill="#fa0000"/>
<rect x="555" y="440" width="1" height="10" fill="#fa0000"/>
<rect x="562" y="438" width="1" height="12" fill="#fa0000"/>
<rect x="569" y="437" width="1" height="13" fill="#fa0000"/>
<rect x="576" y="440" width="1" height="10" fill="#fa0000"/>
<rect x="583" y="441" width="1" height="9" fill="#fa0000"/>
<rect x="590" y="442" width="1" height="8" fill="#fa0000"/>
<rect x="597" y="442" width="1" height="8" fill="#fa0000"/>
<rect x="604" y="443" width="1" height="7" fill="#fa0000"/>
<rect x="611" y="443" width="1" height="7" fill="#fa0000"/>
<rect x="618" y="444" width="1" height="6" fill="#fa0000"/>
<rect x="625" y="444" width="1" height="6" fill="#fa0000"/>
<rect x="632" y="443" width="1" height="7" fill="#fa0000"/>
<rect x="639" y="442" width="1" height="8" fill="#fa0000"/>
<rect x="646" y="443" width="1" height="7" fill="#fa0000"/>
<rect x="653" y="443" width="1" height="7" fill="#fa0000"/>
<rect x="660" y="442" width="1" height="8" fill="#fa0000"/>
<rect x="667" y="442" width="1" height="8" fill="#fa0000"/>
<rect x="674" y="444" width="1" height="6" fill="#fa0000"/>
</g>
<polyline points="3.3,443.4 10.0,444.1 20.0,443.4 33.4,442.4 50.1,440.4 66.8,437.9 83.6,435.1 93.6,432.9 103.6,431.2 117.0,430.0 131.7,430.0 136.7,429.2 145.1,429.2 146.7,428.2 166.8,428.2 186.8,428.4 206.9,428.4 213.6,428.2 220.3,427.4 228.6,427.0 233.6,426.2 246.0,426.2 250.0,426.7 258.4,428.2 270.1,428.4 280.1,429.5 286.8,430.7 293.5,432.4 306.8,432.9 326.9,433.4 333.6,434.6 347.0,435.4 352.0,437.1 360.3,438.4 366.7,440.1 376.7,441.7 386.7,443.4 396.8,445.4 405.1,447.1 413.5,447.6 426.8,447.9 440.2,447.9 453.6,447.4 463.6,446.8 480.0,446.3 490.0,445.4 510.1,445.4 523.4,444.9 530.1,443.8 536.8,442.9 546.8,441.2 556.9,439.6 563.6,438.4 570.2,437.4 580.3,435.7 590.3,434.6 597.0,433.2 603.0,432.5 612.3,431.0 626.6,429.6 636.8,428.2 649.0,426.6 661.3,425.1 674.5,424.1" fill="none" stroke="#e01040" stroke-width="1" stroke-linejoin="round" shape-rendering="crispEdges" />
<polyline points="3.3,443.8 10.0,444.1 20.0,442.6 33.4,440.4 50.1,437.1 66.8,433.7 78.5,430.7 85.2,428.2 100.3,428.2 117.0,428.2 126.7,427.0 136.7,427.0 146.7,426.2 160.1,426.2 166.8,428.2 170.1,429.2 186.8,429.2 195.2,428.4 206.9,428.2 213.6,426.2 220.3,425.0 227.0,424.0 237.0,425.4 243.0,426.7 248.4,427.4 253.4,429.2 258.4,430.4 276.8,430.4 281.8,433.4 288.5,435.1 313.5,435.1 315.2,434.2 321.9,434.2 328.6,436.2 335.3,436.7 340.3,437.9 347.0,439.6 352.0,442.4 358.7,443.4 366.7,444.6 373.4,446.3 380.1,448.4 388.4,449.6 395.1,450.4 408.5,450.4 413.5,449.6 423.5,449.1 426.8,448.4 440.2,447.9 446.9,446.6 453.6,445.4 457.8,444.1 461.9,445.4 480.0,445.7 488.4,445.9 490.0,445.4 510.1,444.9 516.8,443.8 523.4,442.9 530.1,441.2 536.8,439.1 543.5,437.4 550.2,435.7 556.9,434.6 563.6,432.9 568.6,431.6 580.3,430.7 587.0,430.0 595.3,429.2 603.0,429.5 612.3,428.2 626.6,426.6 636.8,424.5 649.0,423.9 661.3,422.1 667.4,421.0 674.5,421.0" fill="none" stroke="#101010" stroke-width="1" stroke-linejoin="round" shape-rendering="crispEdges" />
<ellipse cx="171.6" cy="207" rx="22.15" ry="28.75" fill="none" stroke="#444444" stroke-width="3.8"/>
<ellipse cx="286.65" cy="186.15" rx="21.05" ry="31.15" fill="none" stroke="#1e9bf0" stroke-width="4"/>
<ellipse cx="380.6" cy="195.3" rx="31.2" ry="31" fill="none" stroke="#f25555" stroke-width="4.7"/>
<polygon points="70.09,159.89 118.7,216.8 123.6,212.4 130.9,238.7 105.5,225 112.6,221.1 69.31,160.51" fill="#f85050"/>
<polygon points="224.69,118.71 238.6,181.2 245.1,179.9 239.9,207 225.4,183.8 231.3,182.7 223.71,118.89" fill="#f85050"/>
<polygon points="317.06,285.24 297.5,255.8 291.4,259.8 287.6,230.8 309.3,249.5 303.4,252.5 317.94,284.76" fill="#f85050"/>
<polygon points="167.15,353.2 349.5,369.1 349.1,363.4 373.1,375.6 346.6,383 348.1,376.6 167.05,354.2" fill="#f85050"/>
<polygon points="170.03,415.8 367.2,423.8 367.2,418.4 392.8,429.7 365.6,437.9 366.6,431.8 340,430.7 290,427.3 240,423.4 200,419.6 169.97,416.8" fill="#f85050"/>
<text x="17.5" y="156.4" font-size="24.5" fill="#f85050" textLength="99" lengthAdjust="spacingAndGlyphs">20日均线</text>
<text x="175.3" y="106.4" font-size="24.5" fill="#f85050" textLength="99" lengthAdjust="spacingAndGlyphs">30日均线</text>
<text x="275.5" y="301.4" font-size="24.5" fill="#f85050" textLength="99" lengthAdjust="spacingAndGlyphs">60日均线</text>
<text x="3.2" y="16" font-size="14" fill="#1c1c30" textLength="73.2" lengthAdjust="spacingAndGlyphs" >000001.SH[</text>
<text x="75.8" y="16" font-size="13.3" fill="#1c1c30" textLength="53.2" lengthAdjust="spacingAndGlyphs">上证指数</text>
<text x="129.1" y="16" font-size="14" fill="#1c1c30" textLength="2.5" lengthAdjust="spacingAndGlyphs" >]</text>
<text x="147.1" y="16" font-size="14" fill="#1c1c30" textLength="75.4" lengthAdjust="spacingAndGlyphs" >2014/12/25</text>
<text x="234.6" y="16" font-size="13.3" fill="#1c1c30">收</text>
<text x="250.4" y="16" font-size="14" fill="#c00000" textLength="49.9" lengthAdjust="spacingAndGlyphs" >3072.54</text>
<text x="312.2" y="16" font-size="13.3" fill="#1c1c30">幅</text>
<text x="328.1" y="16" font-size="14" fill="#c00000" textLength="90.1" lengthAdjust="spacingAndGlyphs" >3.36%(100.01)</text>
<text x="429" y="16" font-size="13.3" fill="#1c1c30">开</text>
<text x="445.6" y="16" font-size="14" fill="#c00000" textLength="49.9" lengthAdjust="spacingAndGlyphs" >2992.46</text>
<text x="507" y="16" font-size="13.3" fill="#1c1c30">高</text>
<text x="523.3" y="16" font-size="14" fill="#c00000" textLength="49.5" lengthAdjust="spacingAndGlyphs" >3073.35</text>
<text x="585.2" y="16" font-size="13.3" fill="#1c1c30">低</text>
<text x="600.9" y="16" font-size="14" fill="#0f8a0f" textLength="50.6" lengthAdjust="spacingAndGlyphs" >2969.87</text>
<text x="663" y="16" font-size="13.3" fill="#1c1c30">换</text>
<text x="679.5" y="16" font-size="14" fill="#1c1c30" textLength="39.0" lengthAdjust="spacingAndGlyphs" >1.52%</text>
<rect x="733" y="14" width="2" height="2" fill="#c00000"/>
<rect x="736" y="14" width="2" height="2" fill="#c00000"/>
<rect x="739" y="14" width="2" height="2" fill="#c00000"/>
<text x="2.5" y="36" font-size="13" fill="#1c1c30" textLength="26.4" lengthAdjust="spacingAndGlyphs" >MA5</text>
<text x="34.3" y="36" font-size="13" fill="#ff1493" textLength="44.4" lengthAdjust="spacingAndGlyphs" >3062.75</text>
<text x="90.6" y="36" font-size="13" fill="#1c1c30" textLength="33.6" lengthAdjust="spacingAndGlyphs" >MA10</text>
<text x="129.5" y="36" font-size="13" fill="#3a80c4" textLength="44.1" lengthAdjust="spacingAndGlyphs" >3034.54</text>
<text x="185.5" y="36" font-size="13" fill="#1c1c30" textLength="33.6" lengthAdjust="spacingAndGlyphs" >MA20</text>
<text x="224.5" y="36" font-size="13" fill="#00e0e8" textLength="44.7" lengthAdjust="spacingAndGlyphs" >2941.54</text>
<text x="280.5" y="36" font-size="13" fill="#1c1c30" textLength="33.5" lengthAdjust="spacingAndGlyphs" >MA30</text>
<text x="319.4" y="36" font-size="13" fill="#ff80ff" textLength="43.6" lengthAdjust="spacingAndGlyphs" >2798.86</text>
<text x="375.4" y="36" font-size="13" fill="#1c1c30" textLength="33.6" lengthAdjust="spacingAndGlyphs" >MA60</text>
<text x="414.3" y="36" font-size="13" fill="#10e010" textLength="44.0" lengthAdjust="spacingAndGlyphs" >2591.11</text>
<text x="471.1" y="36" font-size="13" fill="#1c1c30" textLength="39.8" lengthAdjust="spacingAndGlyphs" >MA120</text>
<text x="516.6" y="36" font-size="13" fill="#1010ff" textLength="43.8" lengthAdjust="spacingAndGlyphs" >2395.95</text>
<text x="573.1" y="36" font-size="13" fill="#1c1c30" textLength="40.7" lengthAdjust="spacingAndGlyphs" >MA250</text>
<text x="618.3" y="36" font-size="13" fill="#ff1010" textLength="43.4" lengthAdjust="spacingAndGlyphs" >2218.10</text>
<path d="M81.8 26.4V36.6M79.3 29.2L81.8 26.3L84.3 29.2" fill="none" stroke="#ff1493" stroke-width="1" opacity="0.85"/>
<path d="M176.8 26.4V36.6M174.3 29.2L176.8 26.3L179.3 29.2" fill="none" stroke="#3a80c4" stroke-width="1" opacity="0.85"/>
<path d="M273 26.4V36.6M270.5 29.2L273 26.3L275.5 29.2" fill="none" stroke="#00e0e8" stroke-width="1" opacity="0.85"/>
<path d="M367 26.4V36.6M364.5 29.2L367 26.3L369.5 29.2" fill="none" stroke="#ff80ff" stroke-width="1" opacity="0.85"/>
<path d="M462.2 26.4V36.6M459.7 29.2L462.2 26.3L464.7 29.2" fill="none" stroke="#10e010" stroke-width="1" opacity="0.85"/>
<path d="M564.4 26.4V36.6M561.9 29.2L564.4 26.3L566.9 29.2" fill="none" stroke="#1010ff" stroke-width="1" opacity="0.85"/>
<path d="M665.6 26.4V36.6M663.1 29.2L665.6 26.3L668.1 29.2" fill="none" stroke="#ff1010" stroke-width="1" opacity="0.85"/>
<text x="697.3" y="36" font-size="13" fill="#1c1c30" textLength="18.7" lengthAdjust="spacingAndGlyphs" >(97</text>
<text x="715" y="36.2" font-size="12.2" fill="#1c1c30">日</text>
<text x="726.5" y="36" font-size="13" fill="#1c1c30" textLength="4.3" lengthAdjust="spacingAndGlyphs" >)</text>
<rect x="697" y="37" width="34" height="1" fill="#1c1c30" />
<polygon points="732.3,25 746.7,25 739.5,36.3" fill="#9a9a9a"/>
<rect x="752" y="30" width="2" height="8" fill="#ff9a20"/>
<text x="713.1" y="69.8" font-size="12" fill="#8a8a8a" textLength="28.2" lengthAdjust="spacingAndGlyphs" >4150</text>
<text x="713.1" y="121.8" font-size="12" fill="#8a8a8a" textLength="28.2" lengthAdjust="spacingAndGlyphs" >3750</text>
<text x="713.1" y="172.8" font-size="12" fill="#8a8a8a" textLength="28.2" lengthAdjust="spacingAndGlyphs" >3350</text>
<text x="713.1" y="224.8" font-size="12" fill="#8a8a8a" textLength="28.2" lengthAdjust="spacingAndGlyphs" >2950</text>
<text x="713.1" y="276.8" font-size="12" fill="#8a8a8a" textLength="28.2" lengthAdjust="spacingAndGlyphs" >2550</text>
<text x="713.1" y="327.8" font-size="12" fill="#8a8a8a" textLength="28.2" lengthAdjust="spacingAndGlyphs" >2150</text>
<rect x="709" y="233" width="45" height="20" fill="#dcdcdc"/>
<text x="710.4" y="247.6" font-size="13" fill="#000" textLength="43.7" lengthAdjust="spacingAndGlyphs" >2769.37</text>
<text x="713.1" y="368.7" font-size="12" fill="#8a8a8a" textLength="39.4" lengthAdjust="spacingAndGlyphs" >770.00</text>
<text x="751.3" y="369" font-size="11.6" fill="#667">亿</text>
<text x="713.1" y="393.4" font-size="12" fill="#8a8a8a" textLength="6.4" lengthAdjust="spacingAndGlyphs" >0</text>
<text x="713.1" y="453.6" font-size="12" fill="#8a8a8a" textLength="6.4" lengthAdjust="spacingAndGlyphs" >0</text>
<rect x="1.2" y="336.2" width="17.7" height="17.5" rx="1.8" fill="#f2f2f2"/>
<text x="7.1" y="349.3" font-size="12" fill="#1c1c30" textLength="6.6" lengthAdjust="spacingAndGlyphs" >?</text>
<text x="19.6" y="349.3" font-size="12" fill="#1c1c30" textLength="27.5" lengthAdjust="spacingAndGlyphs" >VOL:</text>
<text x="51.3" y="349.3" font-size="12" fill="#1c1c30" textLength="38.0" lengthAdjust="spacingAndGlyphs" >376.95</text>
<text x="89.3" y="349.8" font-size="11.9" fill="#1c1c30">亿</text>
<text x="106.3" y="349.3" font-size="12" fill="#1c1c30" textLength="38.4" lengthAdjust="spacingAndGlyphs" >MA(5):</text>
<text x="148.7" y="349.3" font-size="12" fill="#1c1c30" textLength="40.8" lengthAdjust="spacingAndGlyphs" >478.39</text>
<text x="189.3" y="349.8" font-size="11.9" fill="#1c1c30">亿</text>
<text x="203.5" y="349.3" font-size="12" fill="#e01848" textLength="45.2" lengthAdjust="spacingAndGlyphs" >MA(10):</text>
<text x="251.9" y="349.3" font-size="12" fill="#e01848" textLength="39.9" lengthAdjust="spacingAndGlyphs" >463.41</text>
<text x="291.7" y="349.8" font-size="11.9" fill="#e01848">亿</text>
<text x="307.5" y="349.3" font-size="12" fill="#1010ff" textLength="44.7" lengthAdjust="spacingAndGlyphs" >MA(20):</text>
<text x="356.5" y="349.3" font-size="12" fill="#1010ff" textLength="39.1" lengthAdjust="spacingAndGlyphs" >503.74</text>
<text x="395.4" y="349.8" font-size="11.9" fill="#1010ff">亿</text>
<rect x="1.2" y="400.4" width="17.7" height="17.5" rx="1.8" fill="#f2f2f2"/>
<text x="7.1" y="412.9" font-size="12" fill="#1c1c30" textLength="6.6" lengthAdjust="spacingAndGlyphs" >?</text>
<text x="20.4" y="412.9" font-size="12" fill="#1c1c30" textLength="85.4" lengthAdjust="spacingAndGlyphs" >MACD(12,26,9)</text>
<text x="111.2" y="412.9" font-size="12" fill="#1c1c30" textLength="21.6" lengthAdjust="spacingAndGlyphs" >DIF:</text>
<text x="137.7" y="412.9" font-size="12" fill="#1c1c30" textLength="50.9" lengthAdjust="spacingAndGlyphs" >127.5149</text>
<text x="194.6" y="412.9" font-size="12" fill="#e01848" textLength="26.9" lengthAdjust="spacingAndGlyphs" >DEA:</text>
<text x="225.5" y="412.9" font-size="12" fill="#e01848" textLength="51.1" lengthAdjust="spacingAndGlyphs" >134.9451</text>
<text x="282.0" y="412.9" font-size="12" fill="#2cb84c" textLength="39.9" lengthAdjust="spacingAndGlyphs" >MACD:</text>
<text x="326.9" y="412.9" font-size="12" fill="#2cb84c" textLength="49.2" lengthAdjust="spacingAndGlyphs" >-14.8605</text>
<rect x="0" y="243" width="709" height="1" fill="#ff8000" />
<rect x="175" y="42" width="1" height="422" fill="#ff8000" />
<text x="5.1" y="477" font-size="12" fill="#9a9a9a" textLength="33.1" lengthAdjust="spacingAndGlyphs" >14-11</text>
<text x="354.1" y="477" font-size="12" fill="#9a9a9a" textLength="33.0" lengthAdjust="spacingAndGlyphs" >15-02</text>
<text x="459.4" y="477" font-size="12" fill="#9a9a9a" textLength="32.3" lengthAdjust="spacingAndGlyphs" >15-03</text>
<text x="613.4" y="477" font-size="12" fill="#9a9a9a" textLength="33.1" lengthAdjust="spacingAndGlyphs" >15-04</text>
<rect x="175" y="463" width="103" height="20" fill="#dcdcdc"/>
<path d="M176 463.5H278" stroke="#ffffff" stroke-width="1" stroke-dasharray="1 1" fill="none" shape-rendering="crispEdges"/>
<path d="M175.5 464V483" stroke="#ff8000" stroke-width="1" stroke-dasharray="1 1" fill="none" shape-rendering="crispEdges"/>
<text x="177.3" y="478" font-size="13" fill="#000" textLength="69.7" lengthAdjust="spacingAndGlyphs" >2014-12-25(</text>
<text x="246.6" y="478" font-size="11.8" fill="#000">四</text>
<text x="258.8" y="478" font-size="13" fill="#000" textLength="4.0" lengthAdjust="spacingAndGlyphs" >)</text>
<path d="M3.5 464V483" stroke="#d8d8d8" stroke-width="1" stroke-dasharray="1 1" fill="none" shape-rendering="crispEdges"/>
</svg>
</body></html>
